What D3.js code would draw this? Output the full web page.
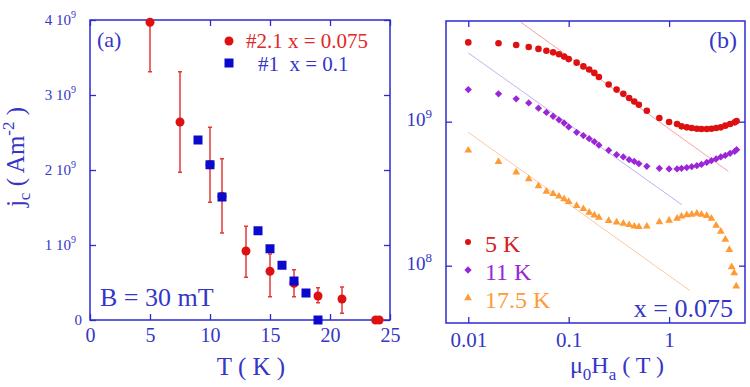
<!DOCTYPE html>
<html>
<head>
<meta charset="utf-8">
<script src="https://cdn.jsdelivr.net/npm/d3@7"></script>
<style>
  body { margin: 0; background: #fff; }
  text { font-family: "Liberation Serif", "Times New Roman", serif; white-space: pre; }
</style>
</head>
<body>
<svg id="chart" width="750" height="387"></svg>
<script>
// ---- panel (a) data : jc in units of 1e9 A/m^2
var tempRed = [5, 7.5, 10, 11, 13, 15, 17, 19, 21, 23.8, 24.1];
var jcRed   = [3.97, 2.64, 2.07, 1.65, 0.92, 0.65, 0.49, 0.32, 0.28, 0, 0];
var errLo   = [3.31, 1.97, 1.57, 1.16, 0.57, 0.31, 0.31, 0.23, 0.09, 0, 0];
var errHi   = [4.0, 3.31, 2.57, 2.15, 1.25, 0.88, 0.67, 0.43, 0.44, 0, 0];
var tempBlue = [9, 10, 11, 14, 15, 16, 17, 18, 19];
var jcBlue   = [2.40, 2.07, 1.64, 1.19, 0.95, 0.73, 0.52, 0.36, 0];
var tTicks = [0, 5, 10, 15, 20, 25];
var jTicks = [0, 1, 2, 3, 4];

// ---- panel (b) data : field in T, jc in units of 1e9 A/m^2
var field = [0.01,0.02,0.03,0.04,0.05,0.06,0.07,0.08,0.09,0.1,0.12,0.14,0.16,0.18,0.2,0.25,0.3,0.35,0.4,0.45,0.5,0.6,0.8,1.0,1.2,1.33,1.5,1.68,1.89,2.1,2.37,2.64,2.94,3.27,3.63,4.05,4.51,4.7];
var jc5K = [3.55,3.50,3.41,3.30,3.20,3.11,3.03,2.94,2.83,2.72,2.57,2.42,2.30,2.18,2.04,1.81,1.67,1.56,1.46,1.38,1.31,1.19,1.06,0.995,0.964,0.928,0.913,0.904,0.894,0.89,0.89,0.894,0.904,0.913,0.938,0.964,0.989,1.01];
var jc11K = [1.67,1.56,1.44,1.35,1.24,1.16,1.09,1.03,0.979,0.919,0.843,0.80,0.762,0.726,0.687,0.632,0.59,0.569,0.545,0.53,0.511,0.49,0.474,0.47,0.47,0.474,0.48,0.487,0.495,0.505,0.521,0.536,0.551,0.569,0.583,0.603,0.622,0.639];
var field17 = [0.01,0.02,0.03,0.04,0.05,0.06,0.07,0.08,0.09,0.1,0.12,0.14,0.16,0.18,0.2,0.25,0.3,0.35,0.4,0.45,0.5,0.6,0.8,1.0,1.2,1.33,1.5,1.68,1.89,2.1,2.37,2.64,2.94,3.27,3.63,3.98,4.2,4.45,4.66];
var jc17K = [0.632,0.527,0.446,0.40,0.358,0.328,0.316,0.303,0.29,0.278,0.261,0.248,0.234,0.224,0.216,0.205,0.2,0.196,0.192,0.1875,0.186,0.1875,0.201,0.206,0.213,0.22,0.225,0.227,0.23,0.227,0.222,0.213,0.19,0.173,0.152,0.129,0.098,0.089,0.072];
// power law guide lines (end points)
var fitField5 = [0.0334, 3.89],  fitJc5 = [4.9, 0.452];
var fitField11 = [0.01, 1.34],   fitJc11 = [3.0, 0.265];
var fitField17 = [0.01, 1.62],   fitJc17 = [0.843, 0.067];
var hTicks = [0.01, 0.1, 1];
var logTicks = [0.1, 1];

var axisCol = "#2b2bd2";
var txtBlue = "#3535c8";
var red = "#dd1111", blue = "#0a0acc", purple = "#9a26d8", orange = "#ff9a35";

var svg = d3.select("#chart");

// ================= panel (a)
var xA = d3.scaleLinear().domain([0, 25]).range([90, 390]);
var yA = d3.scaleLinear().domain([0, 4]).range([320, 20]);

function styleAxis(g) {
  g.select(".domain").remove();
  g.selectAll(".tick line").attr("stroke", axisCol).attr("stroke-width", 1.3);
  g.selectAll(".tick text").attr("fill", txtBlue).attr("font-family", "Liberation Serif");
}

svg.append("g").attr("transform", "translate(0," + yA(0) + ")")
  .call(d3.axisBottom(xA).tickValues(tTicks).tickSize(-6).tickPadding(8))
  .call(styleAxis)
  .selectAll("text").attr("font-size", 20);
svg.append("g").attr("transform", "translate(0," + yA(4) + ")")
  .call(d3.axisTop(xA).tickValues(tTicks).tickSize(-6).tickFormat(""))
  .call(styleAxis);
svg.append("g").attr("transform", "translate(" + xA(0) + ",0)")
  .call(d3.axisLeft(yA).tickValues(jTicks).tickSize(-6).tickFormat(""))
  .call(styleAxis);
svg.append("g").attr("transform", "translate(" + xA(25) + ",0)")
  .call(d3.axisRight(yA).tickValues(jTicks).tickSize(-6).tickFormat(""))
  .call(styleAxis);

svg.append("rect")
  .attr("x", xA(0)).attr("y", yA(4))
  .attr("width", xA(25) - xA(0)).attr("height", yA(0) - yA(4))
  .attr("fill", "none").attr("stroke", axisCol).attr("stroke-width", 1.5);

// y tick labels like "2 10^9"
var ylab = svg.selectAll(".ylabA").data(jTicks).enter().append("text")
  .attr("class", "ylabA")
  .attr("x", d => d === 0 ? xA(0) - 8 : xA(0) - 14)
  .attr("y", d => yA(d) + 5)
  .attr("text-anchor", "end")
  .attr("font-size", 15)
  .attr("fill", txtBlue);
ylab.append("tspan").text(d => d === 0 ? "0" : d + " 10");
ylab.filter(d => d !== 0).append("tspan").attr("dy", -7).attr("font-size", 10).text("9");

// error bars
var redData = tempRed.map((t, i) => ({t: t, j: jcRed[i], lo: errLo[i], hi: errHi[i]}));
var eb = svg.append("g").attr("stroke", "#e03a3a").attr("stroke-width", 1.5);
redData.filter(d => d.hi > d.lo).forEach(function(d) {
  eb.append("line").attr("x1", xA(d.t)).attr("x2", xA(d.t)).attr("y1", yA(d.lo)).attr("y2", yA(d.hi));
  eb.append("line").attr("x1", xA(d.t) - 2).attr("x2", xA(d.t) + 2).attr("y1", yA(d.lo)).attr("y2", yA(d.lo));
  eb.append("line").attr("x1", xA(d.t) - 2).attr("x2", xA(d.t) + 2).attr("y1", yA(d.hi)).attr("y2", yA(d.hi));
});

svg.append("g").selectAll("circle").data(redData).enter().append("circle")
  .attr("cx", d => xA(d.t)).attr("cy", d => yA(d.j)).attr("r", 4.5).attr("fill", red);

var blueData = tempBlue.map((t, i) => ({t: t, j: jcBlue[i]}));
svg.append("g").selectAll("rect").data(blueData).enter().append("rect")
  .attr("x", d => xA(d.t) - 4.5).attr("y", d => yA(d.j) - 4.5)
  .attr("width", 9).attr("height", 9).attr("fill", blue);

// legend (a)
svg.append("circle").attr("cx", 229).attr("cy", 41).attr("r", 4.5).attr("fill", red);
svg.append("text").attr("x", 246).attr("y", 48).attr("font-size", 21).attr("fill", "#e02828").text("#2.1 x = 0.075");
svg.append("rect").attr("x", 224.5).attr("y", 58.5).attr("width", 9).attr("height", 9).attr("fill", blue);
svg.append("text").attr("x", 258).attr("y", 71).attr("font-size", 21).attr("fill", txtBlue).text("#1  x = 0.1");

svg.append("text").attr("x", 97).attr("y", 47).attr("font-size", 22).attr("fill", txtBlue).text("(a)");
svg.append("text").attr("x", 100).attr("y", 306).attr("font-size", 26).attr("fill", txtBlue).text("B = 30 mT");

// axis titles (a)
svg.append("text").attr("x", 251).attr("y", 375).attr("text-anchor", "middle")
  .attr("font-size", 25).attr("fill", txtBlue).text("T ( K )");
var yt = svg.append("text").attr("transform", "translate(24,157) rotate(-90)")
  .attr("text-anchor", "middle").attr("font-size", 25).attr("fill", txtBlue);
yt.append("tspan").text("j");
yt.append("tspan").attr("dy", 6).attr("font-size", 17).text("c");
yt.append("tspan").attr("dy", -6).text(" ( Am");
yt.append("tspan").attr("dy", -10).attr("font-size", 17).text("-2");
yt.append("tspan").attr("dy", 10).text(" )");

// ================= panel (b)
var xB = d3.scaleLog().domain([0.006, 5.7]).range([446, 745]);
var yB = d3.scaleLog().domain([0.04, 5]).range([323, 21]);

svg.append("defs").append("clipPath").attr("id", "clipB").append("rect")
  .attr("x", xB.range()[0]).attr("y", yB.range()[1])
  .attr("width", xB.range()[1] - xB.range()[0]).attr("height", yB.range()[0] - yB.range()[1]);

svg.append("g").attr("transform", "translate(0," + yB(0.04) + ")")
  .call(d3.axisBottom(xB).tickValues(hTicks).tickSize(-6).tickPadding(9).tickFormat(d3.format("")))
  .call(styleAxis)
  .selectAll("text").attr("font-size", 21);
svg.append("g").attr("transform", "translate(0," + yB(5) + ")")
  .call(d3.axisTop(xB).tickValues(hTicks).tickSize(-6).tickFormat(""))
  .call(styleAxis);
svg.append("g").attr("transform", "translate(" + xB(0.006) + ",0)")
  .call(d3.axisLeft(yB).tickValues(logTicks).tickSize(-6).tickFormat(""))
  .call(styleAxis);
svg.append("g").attr("transform", "translate(" + xB(5.7) + ",0)")
  .call(d3.axisRight(yB).tickValues(logTicks).tickSize(-6).tickFormat(""))
  .call(styleAxis);

svg.append("rect")
  .attr("x", xB(0.006)).attr("y", yB(5))
  .attr("width", xB(5.7) - xB(0.006)).attr("height", yB(0.04) - yB(5))
  .attr("fill", "none").attr("stroke", axisCol).attr("stroke-width", 1.5);

var ylabB = svg.selectAll(".ylabB").data(logTicks).enter().append("text")
  .attr("class", "ylabB")
  .attr("x", xB(0.006) - 14).attr("y", d => yB(d) + 4)
  .attr("text-anchor", "end").attr("font-size", 19).attr("fill", txtBlue);
ylabB.append("tspan").text("10");
ylabB.append("tspan").attr("dy", -8).attr("font-size", 13).text(d => Math.round(Math.log10(d)) + 9);

var plotB = svg.append("g").attr("clip-path", "url(#clipB)");

// guide lines
[[fitField5, fitJc5, "#f5a3a3"], [fitField11, fitJc11, "#c4b2ee"], [fitField17, fitJc17, "#f9c9a2"]].forEach(function(f) {
  plotB.append("line")
    .attr("x1", xB(f[0][0])).attr("y1", yB(f[1][0]))
    .attr("x2", xB(f[0][1])).attr("y2", yB(f[1][1]))
    .attr("stroke", f[2]).attr("stroke-width", 1);
});

var s5 = field.map((h, i) => ({h: h, j: jc5K[i]}));
var s11 = field.map((h, i) => ({h: h, j: jc11K[i]}));
var s17 = field17.map((h, i) => ({h: h, j: jc17K[i]}));

plotB.append("g").selectAll("circle").data(s5).enter().append("circle")
  .attr("cx", d => xB(d.h)).attr("cy", d => yB(d.j)).attr("r", 3.3).attr("fill", red);
var diamond = d3.symbol().type(d3.symbolDiamond2).size(34);
plotB.append("g").selectAll("path").data(s11).enter().append("path")
  .attr("d", diamond).attr("transform", d => "translate(" + xB(d.h) + "," + yB(d.j) + ")")
  .attr("fill", purple);
var tri = d3.symbol().type(d3.symbolTriangle).size(26);
plotB.append("g").selectAll("path").data(s17).enter().append("path")
  .attr("d", tri).attr("transform", d => "translate(" + xB(d.h) + "," + yB(d.j) + ")")
  .attr("fill", orange);

// legend (b)
var legB = [["5 K", red, "circle"], ["11 K", purple, "diamond"], ["17.5 K", orange, "tri"]];
legB.forEach(function(l, i) {
  var cy = 242 + i * 28;
  if (l[2] === "circle") svg.append("circle").attr("cx", 468).attr("cy", cy).attr("r", 3).attr("fill", l[1]);
  else svg.append("path").attr("d", l[2] === "diamond" ? diamond : tri)
    .attr("transform", "translate(468," + cy + ")").attr("fill", l[1]);
  svg.append("text").attr("x", 485).attr("y", cy + 10).attr("font-size", 24)
    .attr("fill", i === 0 ? "#d42222" : l[1]).text(l[0]);
});

svg.append("text").attr("x", 733).attr("y", 317).attr("text-anchor", "end")
  .attr("font-size", 26).attr("fill", txtBlue).text("x = 0.075");
svg.append("text").attr("x", 737).attr("y", 48).attr("text-anchor", "end")
  .attr("font-size", 24).attr("fill", txtBlue).text("(b)");

var xt = svg.append("text").attr("x", 617).attr("y", 373).attr("text-anchor", "middle")
  .attr("font-size", 24).attr("fill", txtBlue);
xt.append("tspan").text("\u03bc");
xt.append("tspan").attr("dy", 7).attr("font-size", 17).text("0");
xt.append("tspan").attr("dy", -7).text("H");
xt.append("tspan").attr("dy", 7).attr("font-size", 17).text("a");
xt.append("tspan").attr("dy", -7).text(" ( T )");
</script>
</body>
</html>
